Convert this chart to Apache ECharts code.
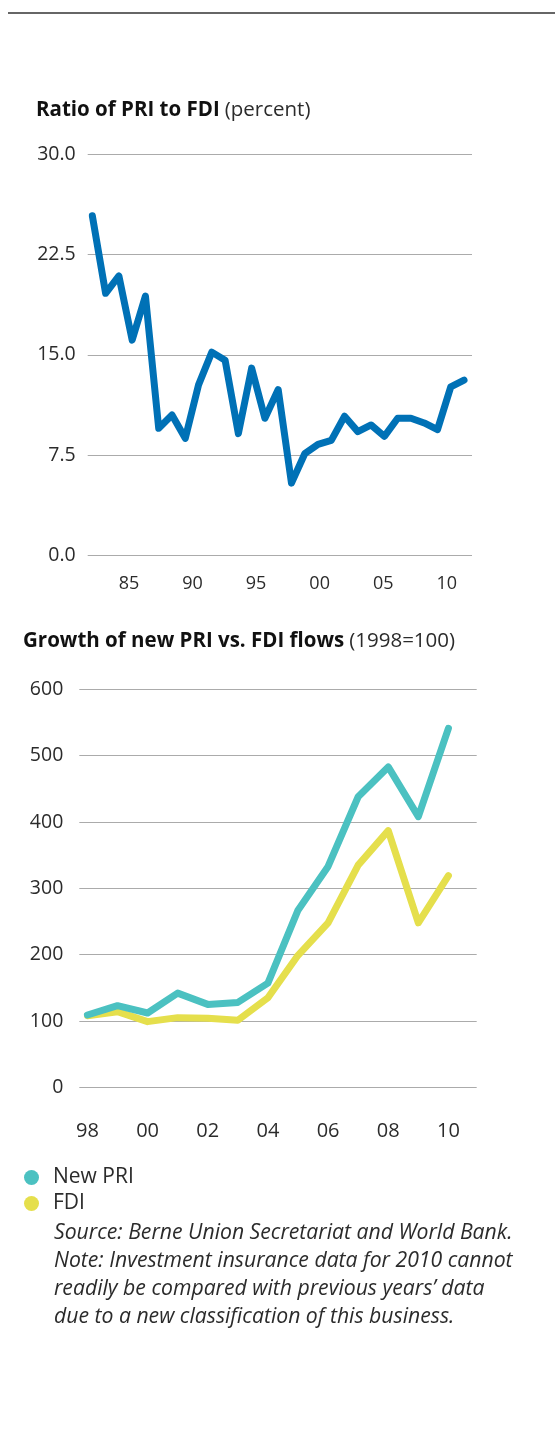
<!DOCTYPE html>
<html>
<head>
<meta charset="utf-8">
<script src="https://cdn.jsdelivr.net/npm/echarts@6/dist/echarts.min.js"></script>
<style>
html,body{margin:0;padding:0;background:#fff;}
#c{width:555px;height:1442px;}
</style>
</head>
<body>
<div id="c"></div>
<script>
// ---- Chart 1: Ratio of PRI to FDI (percent)
const ratioYears = [1982,1983,1984,1985,1986,1987,1988,1989,1990,1991,1992,1993,1994,1995,1996,1997,1998,1999,2000,2001,2002,2003,2004,2005,2006,2007,2008,2009,2010];
const ratioValues = [25.4,19.6,20.9,16.1,19.4,9.5,10.5,8.75,12.75,15.2,14.6,9.1,14.0,10.25,12.4,5.4,7.6,8.3,8.6,10.4,9.25,9.75,8.9,10.25,10.25,9.9,9.4,12.6,13.1];
const ratioTickLabels = {1985:'85',1990:'90',1995:'95',2000:'00',2005:'05',2010:'10'};

// ---- Chart 2: Growth of new PRI vs. FDI flows (1998=100)
const growthYears = [1998,1999,2000,2001,2002,2003,2004,2005,2006,2007,2008,2009,2010];
const newPRI = [109,123,112,142,125,128,157,267,333,438,483,408,541];
const fdi = [108,114,99,105,104,101,135,199,248,335,387,248,319];
const growthTickLabels = {1998:'98',2000:'00',2002:'02',2004:'04',2006:'06',2008:'08',2010:'10'};

const FONT = '"Open Sans"';
const TXT = '#2b2b2b';
const GRIDC = '#ababab';

function pairs(xs, ys){ return xs.map((x,i)=>[x, ys[i]]); }
function isInt(v){ return Math.abs(v - Math.round(v)) < 1e-6; }

const chart = echarts.init(document.getElementById('c'), null, {renderer:'canvas'});
chart.setOption({
  animation:false,
  backgroundColor:'#fff',
  graphic:[{type:'line', shape:{x1:8,y1:13,x2:555,y2:13}, style:{stroke:'#333',lineWidth:1.5}}],
  title:[
    {left:36, top:100, padding:0, text:'{b|Ratio of PRI to FDI} {r|(percent)}',
     textStyle:{rich:{b:{fontFamily:FONT,fontWeight:'bold',fontSize:20.5,color:'#111'},
                      r:{fontFamily:FONT,fontWeight:'normal',fontSize:20.5,color:TXT}}}},
    {left:23, top:631, padding:0, text:'{b|Growth of new PRI vs. FDI flows} {r|(1998=100)}',
     textStyle:{rich:{b:{fontFamily:FONT,fontWeight:'bold',fontSize:20.5,color:'#111'},
                      r:{fontFamily:FONT,fontWeight:'normal',fontSize:20.5,color:TXT}}}},
    {left:54, top:1219, padding:0, text:'Source: Berne Union Secretariat and World Bank.\nNote: Investment insurance data for 2010 cannot\nreadily be compared with previous years\u2019 data\ndue to a new classification of this business.',
     textStyle:{fontFamily:FONT,fontStyle:'italic',fontWeight:'normal',fontSize:21.2,lineHeight:28,color:TXT}}
  ],
  legend:{
    left:24, top:1167, padding:0, orient:'vertical', itemWidth:15, itemHeight:15, itemGap:5,
    icon:'circle', data:['New PRI','FDI'],
    textStyle:{fontFamily:FONT,fontSize:21,lineHeight:16,color:TXT,padding:[0,0,0,9]}
  },
  grid:[
    {left:87.7, right:83, top:154.3, height:401, containLabel:false},
    {left:79.3, right:78.3, top:689.3, height:398, containLabel:false}
  ],
  xAxis:[
    {gridIndex:0, type:'value', position:'bottom', min:1981.65, max:2010.6,
     axisLine:{show:false}, axisTick:{show:false}, axisLabel:{show:false}, splitLine:{show:false}},
    {gridIndex:0, type:'value', position:'bottom', min:1981.75, max:2011.99, minInterval:5, maxInterval:5,
     axisLine:{show:false}, axisTick:{show:false}, splitLine:{show:false},
     axisLabel:{margin:20, fontFamily:FONT, fontSize:18, color:TXT, showMinLabel:false, showMaxLabel:false,
       formatter:v=> isInt(v) && ratioTickLabels[Math.round(v)] ? ratioTickLabels[Math.round(v)] : ''}},
    {gridIndex:1, type:'value', position:'bottom', min:1997.73, max:2010.94, minInterval:1, maxInterval:1,
     axisLine:{show:false}, axisTick:{show:false}, splitLine:{show:false},
     axisLabel:{margin:34, fontFamily:FONT, fontSize:20, color:TXT, showMinLabel:false, showMaxLabel:false,
       formatter:v=> isInt(v) && growthTickLabels[Math.round(v)] ? growthTickLabels[Math.round(v)] : ''}}
  ],
  yAxis:[
    {gridIndex:0, type:'value', min:0, max:30, interval:7.5,
     axisLine:{show:false}, axisTick:{show:false},
     splitLine:{show:true, lineStyle:{color:GRIDC, width:1}},
     axisLabel:{margin:12, fontFamily:FONT, fontSize:19.5, color:TXT, padding:[0,0,3,0], formatter:v=>v.toFixed(1)}},
    {gridIndex:1, type:'value', min:0, max:600, interval:100,
     axisLine:{show:false}, axisTick:{show:false},
     splitLine:{show:true, lineStyle:{color:GRIDC, width:1}},
     axisLabel:{margin:16, fontFamily:FONT, fontSize:19.5, color:TXT, padding:[0,0,10,0]}}
  ],
  series:[
    {name:'Ratio', type:'line', xAxisIndex:0, yAxisIndex:0, data:pairs(ratioYears, ratioValues),
     symbol:'none', lineStyle:{color:'#0071b6', width:7, cap:'round', join:'round'}, itemStyle:{color:'#0071b6'}},
    {name:'FDI', type:'line', xAxisIndex:2, yAxisIndex:1, data:pairs(growthYears, fdi),
     symbol:'none', lineStyle:{color:'#e5df4c', width:7, cap:'round', join:'round'}, itemStyle:{color:'#e5df4c'}},
    {name:'New PRI', type:'line', xAxisIndex:2, yAxisIndex:1, data:pairs(growthYears, newPRI),
     symbol:'none', lineStyle:{color:'#4bc1c1', width:7, cap:'round', join:'round'}, itemStyle:{color:'#4bc1c1'}}
  ]
});
</script>
</body>
</html>
